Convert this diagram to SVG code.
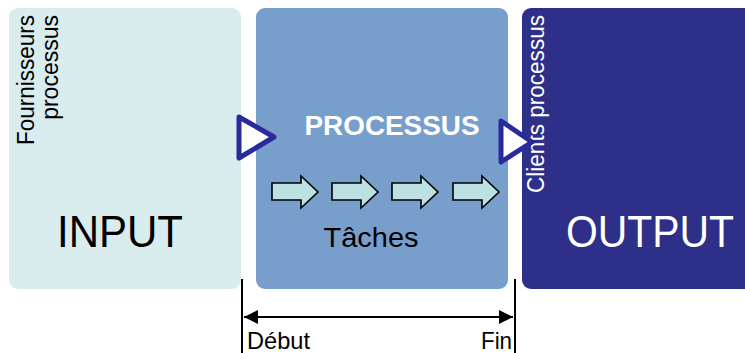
<svg xmlns="http://www.w3.org/2000/svg" width="745" height="353" viewBox="0 0 745 353">
<style>
text{font-family:"Liberation Sans",Arial,sans-serif}
.task{fill:#bde0e3;stroke:#000;stroke-width:1.6}
.tri{fill:#fff;stroke:#2a2a9f;stroke-width:5;stroke-linejoin:round}
.ln{stroke:#000;stroke-width:2;fill:none}
</style>
<defs>
<marker id="ah" viewBox="0 0 10 10" refX="10" refY="5" markerWidth="7" markerHeight="7" orient="auto-start-reverse" markerUnits="strokeWidth">
<path d="M0,0 L10,5 L0,10 z" fill="#000"/>
</marker>
<path id="tk" class="task" d="M0,7 H29 V0 L46,16 L29,32 V24 H0 z"/>
</defs>
<rect width="745" height="353" fill="#fff"/>
<g id="input">
<rect x="9" y="8" width="232" height="281" rx="9" fill="#d9ecee"/>
<text transform="translate(34,15) rotate(-90)" font-size="23" text-anchor="end" textLength="130" lengthAdjust="spacingAndGlyphs">Fournisseurs</text>
<text transform="translate(58,15) rotate(-90)" font-size="23" text-anchor="end">processus</text>
<text x="120" y="247" font-size="45" text-anchor="middle" textLength="126" lengthAdjust="spacingAndGlyphs">INPUT</text>
</g>
<g id="processus">
<rect x="256" y="8" width="252" height="281" rx="9" fill="#789ecb"/>
<text x="392" y="135" font-size="27" font-weight="bold" fill="#fff" text-anchor="middle" textLength="175" lengthAdjust="spacingAndGlyphs">PROCESSUS</text>
<use href="#tk" x="272" y="176"/>
<use href="#tk" x="332" y="176"/>
<use href="#tk" x="392" y="176"/>
<use href="#tk" x="453" y="176"/>
<text x="371" y="247" font-size="28" text-anchor="middle" textLength="95" lengthAdjust="spacingAndGlyphs">Tâches</text>
</g>
<g id="output">
<rect x="522" y="8" width="240" height="281" rx="9" fill="#2e2f88"/>
<text transform="translate(544,15) rotate(-90)" font-size="23" fill="#fff" text-anchor="end" textLength="178" lengthAdjust="spacingAndGlyphs">Clients processus</text>
<text x="650" y="247" font-size="45" fill="#fff" text-anchor="middle" textLength="168" lengthAdjust="spacingAndGlyphs">OUTPUT</text>
</g>
<g id="connectors">
<path class="tri" d="M239,117 L274,137 L239,158 z"/>
<path class="tri" d="M501,121 L532,142 L501,162 z"/>
<line class="ln" x1="242" y1="279" x2="242" y2="353"/>
<line class="ln" x1="515" y1="279" x2="515" y2="353"/>
<line class="ln" x1="244" y1="317" x2="513" y2="317" marker-start="url(#ah)" marker-end="url(#ah)"/>
</g>
<g id="labels">
<text x="247" y="349" font-size="24" textLength="63" lengthAdjust="spacingAndGlyphs">Début</text>
<text x="481" y="349" font-size="24" textLength="31" lengthAdjust="spacingAndGlyphs">Fin</text>
</g>
</svg>
